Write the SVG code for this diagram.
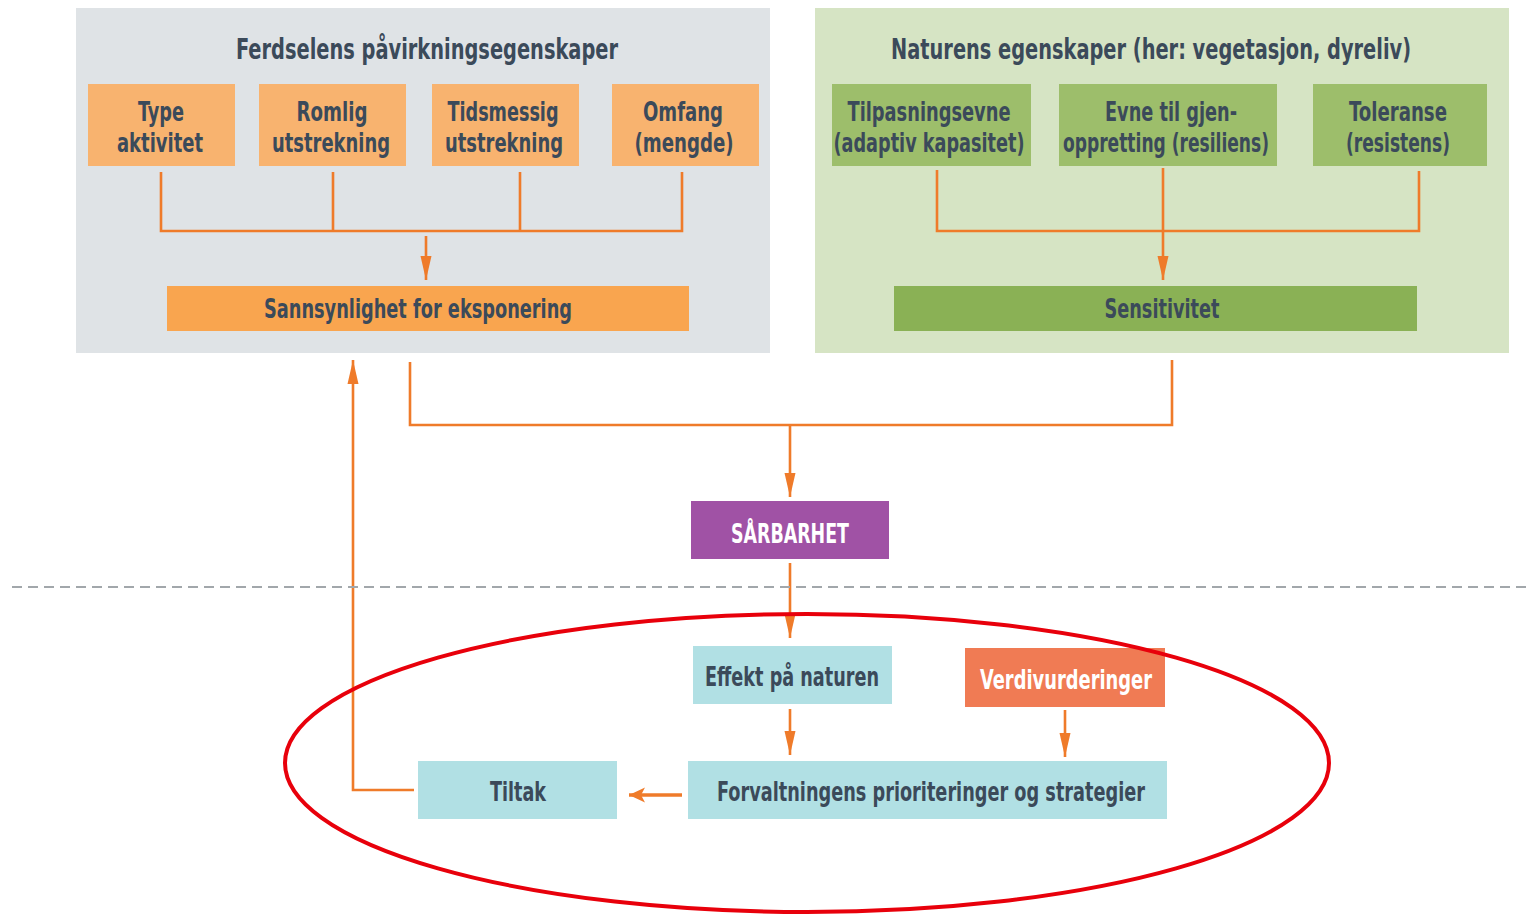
<svg xmlns="http://www.w3.org/2000/svg" width="1530" height="914" viewBox="0 0 1530 914">
<defs>
<style>
text{font-family:"DejaVu Sans Condensed","DejaVu Sans","Liberation Sans",sans-serif;fill:#3b4a5a;text-anchor:middle;font-size:27px;font-weight:bold}
.t{font-size:28px}
.w{fill:#ffffff}
.ln{fill:none;stroke:#ef7b2a;stroke-width:2.6}
.lo{fill:#f8b36f}
.do{fill:#f9a54f}
.lg{fill:#9dbe6b}
.dg{fill:#8ab155}
.cy{fill:#b1e0e4}
</style>
<marker id="ah" viewBox="0 0 24 14" refX="24" refY="7" markerWidth="24" markerHeight="14" markerUnits="userSpaceOnUse" orient="auto">
<path d="M0,1.5 L24,7 L0,12.5 Z" fill="#ef7b2a"/>
</marker>
<marker id="ahs" viewBox="0 0 16 16" refX="16" refY="8" markerWidth="16" markerHeight="16" markerUnits="userSpaceOnUse" orient="auto">
<path d="M0,8 L16,0.5 L12,8 L16,15.5 Z" fill="#ef7b2a" transform="rotate(180 8 8)"/>
</marker>
</defs>
<rect width="1530" height="914" fill="#ffffff"/>
<g id="panel-left">
<rect x="76" y="8" width="694" height="345" fill="#dfe3e6"/>
<text class="t" x="427" y="59" textLength="382" lengthAdjust="spacingAndGlyphs">Ferdselens påvirkningsegenskaper</text>
</g>
<g id="panel-right">
<rect x="815" y="8" width="694" height="345" fill="#d6e4c4"/>
<text class="t" x="1151" y="59" textLength="520" lengthAdjust="spacingAndGlyphs">Naturens egenskaper (her: vegetasjon, dyreliv)</text>
</g>
<g id="type-aktivitet">
<rect class="lo" x="88" y="84" width="147" height="82"/>
<text x="161" y="121" textLength="46" lengthAdjust="spacingAndGlyphs">Type</text>
<text x="160" y="152" textLength="86" lengthAdjust="spacingAndGlyphs">aktivitet</text>
</g>
<g id="romlig">
<rect class="lo" x="259" y="84" width="147" height="82"/>
<text x="332" y="121" textLength="71" lengthAdjust="spacingAndGlyphs">Romlig</text>
<text x="331" y="152" textLength="118" lengthAdjust="spacingAndGlyphs">utstrekning</text>
</g>
<g id="tidsmessig">
<rect class="lo" x="432" y="84" width="147" height="82"/>
<text x="503" y="121" textLength="111" lengthAdjust="spacingAndGlyphs">Tidsmessig</text>
<text x="504" y="152" textLength="118" lengthAdjust="spacingAndGlyphs">utstrekning</text>
</g>
<g id="omfang">
<rect class="lo" x="612" y="84" width="147" height="82"/>
<text x="683" y="121" textLength="80" lengthAdjust="spacingAndGlyphs">Omfang</text>
<text x="684" y="152" textLength="99" lengthAdjust="spacingAndGlyphs">(mengde)</text>
</g>
<g id="sannsynlighet">
<rect class="do" x="167" y="286" width="522" height="45"/>
<text x="418" y="318" textLength="308" lengthAdjust="spacingAndGlyphs">Sannsynlighet for eksponering</text>
</g>
<g id="tilpasningsevne">
<rect class="lg" x="832" y="84" width="199" height="82"/>
<text x="929" y="121" textLength="163" lengthAdjust="spacingAndGlyphs">Tilpasningsevne</text>
<text x="929" y="152" textLength="191" lengthAdjust="spacingAndGlyphs">(adaptiv kapasitet)</text>
</g>
<g id="evne">
<rect class="lg" x="1059" y="84" width="218" height="82"/>
<text x="1171" y="121" textLength="132" lengthAdjust="spacingAndGlyphs">Evne til gjen-</text>
<text x="1166" y="152" textLength="206" lengthAdjust="spacingAndGlyphs">oppretting (resiliens)</text>
</g>
<g id="toleranse">
<rect class="lg" x="1313" y="84" width="174" height="82"/>
<text x="1398" y="121" textLength="98" lengthAdjust="spacingAndGlyphs">Toleranse</text>
<text x="1398" y="152" textLength="104" lengthAdjust="spacingAndGlyphs">(resistens)</text>
</g>
<g id="sensitivitet">
<rect class="dg" x="894" y="286" width="523" height="45"/>
<text x="1162" y="318" textLength="115" lengthAdjust="spacingAndGlyphs">Sensitivitet</text>
</g>
<g id="sarbarhet">
<rect x="691" y="501" width="198" height="58" fill="#a052a5"/>
<text class="w" x="790" y="543" textLength="118" lengthAdjust="spacingAndGlyphs">SÅRBARHET</text>
</g>
<g id="effekt">
<rect class="cy" x="693" y="646" width="199" height="58"/>
<text x="792" y="686" textLength="174" lengthAdjust="spacingAndGlyphs">Effekt på naturen</text>
</g>
<g id="verdivurderinger">
<rect x="965" y="648" width="200" height="59" fill="#f07b54"/>
<text class="w" x="1066" y="689" textLength="172" lengthAdjust="spacingAndGlyphs">Verdivurderinger</text>
</g>
<g id="forvaltningens">
<rect class="cy" x="688" y="761" width="479" height="58"/>
<text x="931" y="801" textLength="428" lengthAdjust="spacingAndGlyphs">Forvaltningens prioriteringer og strategier</text>
</g>
<g id="tiltak">
<rect class="cy" x="418" y="761" width="199" height="58"/>
<text x="518" y="801" textLength="56" lengthAdjust="spacingAndGlyphs">Tiltak</text>
</g>
<g id="connectors">
<path class="ln" d="M161,172 V231 H682 V172 M333,172 V231 M520,172 V231"/>
<path class="ln" d="M426,236 V280" marker-end="url(#ah)"/>
<path class="ln" d="M937,170 V231 H1419 V171"/>
<path class="ln" d="M1163,168 V280" marker-end="url(#ah)"/>
<path class="ln" d="M410,362 V425 H1172 V360"/>
<path class="ln" d="M790,425 V497" marker-end="url(#ah)"/>
<path class="ln" d="M790,563 V638" marker-end="url(#ah)"/>
<path class="ln" d="M790,709 V755" marker-end="url(#ah)"/>
<path class="ln" d="M1065,710 V757" marker-end="url(#ah)"/>
<path class="ln" d="M682,795 H629" marker-end="url(#ahs)" style="stroke-width:3.5"/>
<path class="ln" d="M414,790 H353 V360" marker-end="url(#ah)"/>
</g>
<line x1="12" y1="587" x2="1530" y2="587" stroke="#a2a7ab" stroke-width="2.2" stroke-dasharray="10,6"/>
<ellipse cx="807" cy="763" rx="522" ry="149" fill="none" stroke="#e8000b" stroke-width="4"/>
</svg>
